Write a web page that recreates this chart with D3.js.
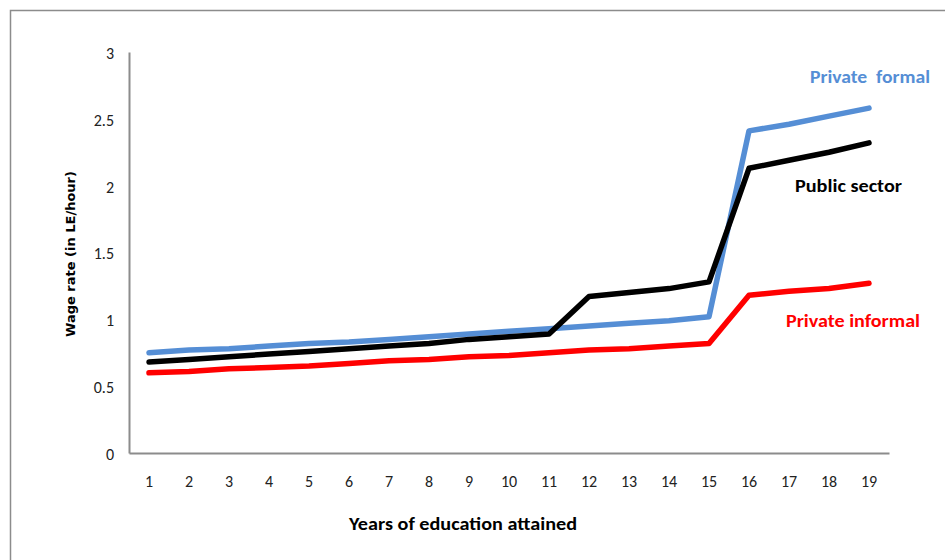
<!DOCTYPE html>
<html>
<head>
<meta charset="utf-8">
<script src="https://cdn.jsdelivr.net/npm/d3@7"></script>
<style>
  html, body { margin: 0; padding: 0; background: #fff; }
  svg { display: block; }
</style>
</head>
<body>
<svg id="chart" width="945" height="560"></svg>
<script>
// Years of schooling on the x axis
const years = [1, 2, 3, 4, 5, 6, 7, 8, 9, 10, 11, 12, 13, 14, 15, 16, 17, 18, 19];

// Hourly wage (LE/hour) by sector
const privateFormal   = [0.75, 0.77, 0.78, 0.80, 0.82, 0.83, 0.85, 0.87, 0.89, 0.91, 0.93, 0.95, 0.97, 0.99, 1.02, 2.41, 2.46, 2.52, 2.58];
const publicSector    = [0.68, 0.70, 0.72, 0.74, 0.76, 0.78, 0.80, 0.82, 0.85, 0.87, 0.89, 1.17, 1.20, 1.23, 1.28, 2.13, 2.19, 2.25, 2.32];
const privateInformal = [0.60, 0.61, 0.63, 0.64, 0.65, 0.67, 0.69, 0.70, 0.72, 0.73, 0.75, 0.77, 0.78, 0.80, 0.82, 1.18, 1.21, 1.23, 1.27];

const yTicks = [0, 0.5, 1, 1.5, 2, 2.5, 3];
const seriesNames = ["Private  formal", "Public sector", "Private informal"];

const svg = d3.select("#chart");
const narrow = "Carlito, 'Liberation Sans Narrow', Lato, 'Open Sans', sans-serif";

// Outer frame
svg.append("rect")
  .attr("x", 10.5).attr("y", 10.5)
  .attr("width", 960).attr("height", 600)
  .attr("fill", "none").attr("stroke", "#8c8c8c").attr("stroke-width", 1.5);

const plot = { left: 129, right: 889, top: 52, bottom: 453 };

const x = d3.scaleBand().domain(years).range([plot.left, plot.right]);
const y = d3.scaleLinear().domain([0, 3]).range([plot.bottom, plot.top]);
const xc = d => x(d) + x.bandwidth() / 2;

// Y axis
const yAxis = svg.append("g")
  .attr("transform", `translate(${plot.left},0)`)
  .call(d3.axisLeft(y).tickValues(yTicks).tickSize(0).tickPadding(15).tickFormat(d3.format("")));
yAxis.select(".domain").attr("stroke", "#8c8c8c").attr("stroke-width", 2);
yAxis.selectAll("text")
  .attr("font-family", narrow).attr("font-size", 16).attr("fill", "#222")
  .attr("dy", "0.4em");

// X axis
const xAxis = svg.append("g")
  .attr("transform", `translate(0,${plot.bottom})`)
  .call(d3.axisBottom(x).tickSize(0).tickPadding(23));
xAxis.select(".domain").attr("stroke", "#8c8c8c").attr("stroke-width", 2);
xAxis.selectAll("text")
  .attr("font-family", narrow).attr("font-size", 16).attr("fill", "#222");

// Axis titles
svg.append("text")
  .attr("x", 463).attr("y", 530)
  .attr("text-anchor", "middle")
  .attr("font-family", narrow).attr("font-weight", "bold").attr("font-size", 19)
  .attr("textLength", 228).attr("lengthAdjust", "spacingAndGlyphs")
  .attr("fill", "#000")
  .text("Years of education attained");

svg.append("text")
  .attr("transform", "translate(75,254) rotate(-90)")
  .attr("text-anchor", "middle")
  .attr("font-family", "'DejaVu Sans', Verdana, sans-serif").attr("font-weight", "bold").attr("font-size", 13)
  .attr("fill", "#000")
  .text("Wage rate (in LE/hour)");

// Series lines
const series = [
  { name: seriesNames[0], values: privateFormal,   color: "#558ed5", lx: 810, ly: 83, w: 120 },
  { name: seriesNames[1], values: publicSector,    color: "#000000", lx: 795, ly: 192, w: 107 },
  { name: seriesNames[2], values: privateInformal, color: "#ff0000", lx: 786, ly: 327, w: 134 }
];

const line = d3.line().x((d, i) => xc(years[i])).y(d => y(d));

// red underneath, then blue, then black on top where they cross
[series[2], series[0], series[1]].forEach(s => {
  svg.append("path")
    .datum(s.values)
    .attr("d", line)
    .attr("fill", "none")
    .attr("stroke", s.color)
    .attr("stroke-width", 5.5)
    .attr("stroke-linejoin", "round")
    .attr("stroke-linecap", "round");
});

// Series labels
series.forEach(s => {
  svg.append("text")
    .attr("x", s.lx).attr("y", s.ly)
    .attr("font-family", narrow).attr("font-weight", "bold").attr("font-size", 19)
    .attr("textLength", s.w).attr("lengthAdjust", "spacingAndGlyphs")
    .attr("fill", s.color)
    .attr("xml:space", "preserve")
    .style("white-space", "pre")
    .text(s.name);
});
</script>
</body>
</html>
